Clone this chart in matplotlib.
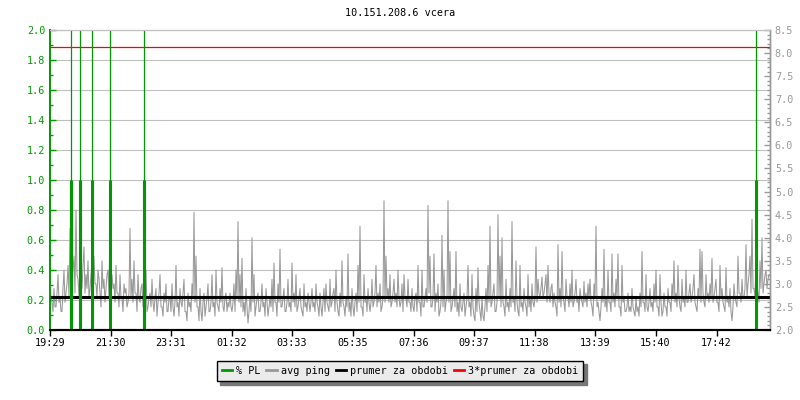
import matplotlib
matplotlib.use("Agg")
import matplotlib.pyplot as plt
import numpy as np
from matplotlib.lines import Line2D
from matplotlib.ticker import MultipleLocator, FormatStrFormatter

TITLE = "10.151.208.6 vcera"
START = "19:29"
STEP_MIN = 2  # one ping sample every 2 minutes
SPAN_MIN = 1440

tick_labels = ["19:29", "21:30", "23:31", "01:32", "03:33", "05:35",
               "07:36", "09:37", "11:38", "13:39", "15:40", "17:42"]

# avg ping [ms], right axis, one row = 40 minutes
avg_ping = [
  3.1, 2.7, 2.6, 2.4, 2.9, 2.5, 2.5, 2.8, 3.2, 2.6, 2.7, 2.4, 2.4, 2.9, 3.3, 2.6, 2.8, 3.0, 3.4, 2.7,
  4.2, 2.9, 3.0, 3.3, 3.6, 2.8, 4.6, 3.2, 3.1, 2.7, 3.5, 3.0, 2.9, 3.4, 3.8, 2.8, 3.2, 2.9, 3.5, 2.7,
  2.9, 3.2, 3.4, 2.6, 3.6, 3.0, 3.0, 2.7, 3.3, 3.1, 2.8, 2.5, 3.5, 2.9, 3.1, 2.6, 2.9, 3.2, 3.3, 2.7,
  4.5, 2.8, 3.2, 2.9, 3.0, 2.6, 3.4, 2.8, 2.8, 2.5, 3.2, 2.7, 2.7, 2.4, 3.0, 2.8, 2.9, 2.5, 2.6, 2.8,
  4.2, 2.7, 3.1, 2.6, 3.5, 2.8, 2.8, 2.4, 3.2, 2.7, 2.6, 2.9, 3.0, 2.5, 2.9, 2.6, 3.3, 2.4, 2.5, 2.7,
  2.8, 2.5, 3.1, 2.6, 2.4, 2.7, 2.9, 2.3, 2.6, 2.8, 3.2, 2.5, 2.5, 2.3, 2.8, 2.6, 3.0, 2.4, 2.4, 2.7,
  2.7, 2.4, 3.0, 2.5, 2.3, 2.6, 3.4, 2.5, 2.6, 2.3, 2.9, 2.6, 2.5, 2.8, 3.1, 2.4, 2.4, 2.2, 2.8, 2.5,
  2.6, 2.4, 3.0, 2.7, 4.55, 2.6, 3.6, 2.5, 2.5, 2.2, 2.9, 2.4, 2.2, 2.6, 2.8, 2.3, 2.5, 2.7, 3.0, 2.4,
  2.4, 2.6, 3.2, 2.5, 2.6, 2.3, 3.3, 2.6, 2.5, 2.4, 2.9, 2.6, 3.35, 2.5, 2.4, 2.7, 2.8, 2.4, 2.6, 2.5,
  # 01:29 ->
  2.8, 2.5, 2.4, 2.6, 3.0, 2.4, 3.3, 2.7, 4.35, 2.6, 3.2, 2.5, 3.55, 2.4, 2.6, 2.3, 2.9, 2.5, 2.15, 2.4,
  2.7, 2.4, 4.0, 2.6, 3.2, 2.3, 2.5, 2.7, 2.8, 2.4, 2.4, 2.6, 3.0, 2.5, 2.6, 2.3, 2.9, 2.6, 2.3, 2.5,
  2.7, 2.5, 3.1, 2.4, 3.45, 2.6, 2.6, 2.3, 3.0, 2.6, 3.75, 2.5, 2.5, 2.7, 2.9, 2.4, 2.4, 2.6, 3.1, 2.5,
  2.6, 2.4, 3.45, 2.6, 2.8, 2.5, 3.2, 2.4, 2.5, 2.7, 2.9, 2.5, 2.4, 2.3, 3.0, 2.5, 2.6, 2.4, 2.8, 2.6,
  2.4, 2.6, 2.9, 2.5, 2.6, 2.4, 3.0, 2.6, 2.5, 2.3, 2.8, 2.5, 2.3, 2.6, 2.9, 2.4, 3.0, 2.6, 2.5, 2.4,
  3.1, 2.5, 2.6, 2.8, 2.9, 2.4, 3.3, 2.6, 2.4, 2.3, 2.8, 2.5, 3.5, 2.6, 2.5, 2.3, 2.7, 2.5, 3.65, 2.4,
  2.6, 2.3, 2.9, 2.5, 2.3, 2.6, 2.8, 2.4, 3.4, 2.6, 4.25, 2.5, 2.5, 2.3, 3.2, 2.6, 2.7, 2.4, 2.9, 2.6,
  2.4, 2.6, 3.1, 2.5, 2.6, 2.8, 3.4, 2.5, 2.8, 2.6, 3.0, 2.4, 2.5, 2.7, 4.8, 2.6, 3.6, 2.7, 2.9, 2.6,
  3.2, 2.5, 2.6, 2.8, 3.1, 2.6, 2.8, 2.5, 3.3, 2.7, 2.5, 2.6, 3.0, 2.4, 3.2, 2.7, 2.7, 2.5, 3.1, 2.6,
  # 07:29 ->
  2.6, 2.4, 2.9, 2.5, 2.4, 2.7, 2.8, 2.4, 3.4, 2.6, 2.6, 2.3, 3.3, 2.5, 2.5, 2.7, 2.9, 2.6, 4.7, 2.8,
  3.6, 2.5, 2.5, 2.7, 3.65, 2.4, 2.8, 2.6, 3.0, 2.3, 2.4, 2.6, 4.05, 2.5, 3.3, 2.4, 2.6, 2.7, 4.8, 2.6,
  3.7, 2.4, 2.5, 2.7, 2.9, 2.5, 3.7, 2.4, 2.6, 2.3, 3.0, 2.5, 2.4, 2.6, 2.8, 2.3, 2.5, 2.7, 3.4, 2.5,
  2.6, 2.3, 3.2, 2.5, 2.3, 2.2, 2.9, 2.4, 3.35, 2.6, 2.4, 2.2, 2.7, 2.3, 2.2, 2.5, 2.9, 2.4, 3.4, 2.6,
  4.25, 2.5, 2.6, 2.8, 3.0, 2.4, 2.4, 2.6, 4.5, 2.7, 3.6, 2.5, 4.0, 2.6, 2.5, 2.3, 3.1, 2.5, 2.6, 2.4,
  2.9, 2.5, 4.35, 2.6, 2.7, 2.4, 3.5, 2.6, 2.4, 2.3, 3.4, 2.5, 2.6, 2.4, 2.9, 2.6, 2.5, 2.3, 3.2, 2.5,
  2.7, 2.4, 3.0, 2.6, 2.5, 2.7, 3.8, 2.6, 3.1, 2.8, 2.7, 2.9, 3.15, 2.7, 2.8, 3.0, 3.2, 2.6, 3.4, 2.8,
  2.6, 2.9, 3.0, 2.5, 2.8, 2.6, 2.5, 2.3, 3.85, 2.6, 2.9, 2.5, 3.7, 2.7, 2.6, 2.4, 3.1, 2.7, 2.7, 2.5,
  3.0, 2.6, 3.3, 2.5, 2.6, 2.8, 3.1, 2.6, 2.7, 2.4, 2.9, 2.7, 2.6, 2.5, 3.05, 2.6, 2.8, 2.5, 3.0, 2.7,
  # 13:29 ->
  3.1, 2.6, 2.5, 2.3, 3.0, 2.7, 4.25, 2.5, 2.6, 2.4, 2.2, 2.5, 2.9, 2.6, 3.75, 2.5, 2.7, 2.4, 3.3, 2.6,
  2.6, 2.4, 3.65, 2.6, 2.8, 2.5, 3.1, 2.7, 3.65, 2.5, 2.5, 2.3, 3.4, 2.6, 2.7, 2.4, 2.4, 2.5, 2.8, 2.4,
  2.5, 2.4, 2.9, 2.5, 2.4, 2.3, 2.7, 2.4, 2.5, 2.3, 2.8, 2.5, 3.7, 2.6, 2.6, 2.4, 3.2, 2.5, 2.4, 2.6,
  2.9, 2.5, 2.6, 2.4, 3.0, 2.6, 3.3, 2.5, 2.5, 2.3, 3.2, 2.6, 2.3, 2.4, 2.8, 2.5, 2.5, 2.3, 2.9, 2.6,
  2.6, 2.4, 3.0, 2.7, 3.5, 2.6, 2.8, 2.5, 3.4, 2.7, 2.5, 2.4, 3.1, 2.6, 2.7, 2.5, 3.3, 2.6, 2.6, 2.8,
  3.0, 2.6, 2.7, 2.9, 3.2, 2.6, 2.5, 2.4, 2.9, 2.7, 3.75, 2.6, 3.7, 2.8, 2.6, 2.5, 3.2, 2.7, 2.8, 2.6,
  3.0, 2.7, 3.55, 2.6, 2.7, 2.9, 3.1, 2.6, 2.6, 2.4, 3.4, 2.7, 2.9, 2.6, 2.5, 2.4, 3.35, 2.6, 2.7, 2.5,
  2.9, 2.4, 2.2, 2.5, 3.0, 2.7, 2.6, 2.5, 3.6, 2.8, 2.8, 2.6, 3.1, 2.7, 2.7, 2.9, 3.85, 2.7, 3.0, 3.2,
  3.6, 2.8, 4.4, 2.9, 2.9, 2.7, 3.5, 3.0, 2.8, 2.6, 3.5, 2.9, 4.0, 2.8, 3.0, 3.2, 3.3, 2.9, 3.1, 3.2,
]
avg_mean = 2.71

# packet loss [%], left axis: minutes after start
pl_minutes = [42, 60, 84, 120, 188, 1412]
pl_values = [1.0, 1.0, 1.0, 1.0, 1.0, 1.0]
pl_peaks = [2.0, 2.0, 2.0, 2.0, 2.0, 2.0]

GREEN = "#009900"
GRAY = "#999999"
GRID = "#c0c0c0"
FONT = "DejaVu Sans Mono"
FS = 7.3

plt.rcParams["font.family"] = FONT
plt.rcParams["font.size"] = FS


def to_minutes(label):
  h, m = map(int, label.split(":"))
  sh, sm = map(int, START.split(":"))
  return (h * 60 + m - (sh * 60 + sm)) % SPAN_MIN


fig = plt.figure(figsize=(8, 4), dpi=100)
ax = fig.add_axes([50 / 800, 70 / 400, 720 / 800, 300 / 400])
ax2 = ax.twinx()

ax.set_xlim(0, SPAN_MIN)
ax.set_ylim(0, 2.0)
ax2.set_ylim(2.0, 8.5)

# grid on left scale
ax.yaxis.set_major_locator(MultipleLocator(0.2))
ax.yaxis.set_minor_locator(MultipleLocator(0.1))
ax.grid(axis="y", color=GRID, linewidth=0.8)
ax.set_axisbelow(True)

x = np.arange(len(avg_ping)) * STEP_MIN
ax2.plot(x, avg_ping, color=GRAY, linewidth=0.75)
ax2.axhline(avg_mean, color="black", linewidth=2.2)
ax2.axhline(3 * avg_mean, color="red", linewidth=0.9)
# PL drawn on left scale, above the ping line
ax2.vlines(pl_minutes, 0, pl_peaks, color=GREEN, linewidth=0.9,
           transform=ax.transData)
ax2.vlines(pl_minutes, 0, pl_values, color=GREEN, linewidth=2.2,
           transform=ax.transData)

ax.set_xticks([to_minutes(t) for t in tick_labels])
ax.set_xticklabels(tick_labels)
ax.tick_params(axis="x", direction="out", length=4, width=1, colors="black",
               pad=2)
ax.tick_params(axis="y", which="both", direction="in", colors=GREEN,
               labelcolor=GREEN, width=1)
ax.tick_params(axis="y", which="major", length=4)
ax.tick_params(axis="y", which="minor", length=2.5)
ax.yaxis.set_major_formatter(FormatStrFormatter("%.1f"))

ax2.yaxis.set_major_locator(MultipleLocator(0.5))
ax2.yaxis.set_minor_locator(MultipleLocator(0.1))
ax2.yaxis.set_major_formatter(FormatStrFormatter("%.1f"))
ax2.tick_params(axis="y", which="both", direction="in", colors=GRAY,
                labelcolor=GRAY, width=1)
ax2.tick_params(axis="y", which="major", length=4)
ax2.tick_params(axis="y", which="minor", length=2.5)

for a in (ax, ax2):
  a.spines["left"].set_color(GREEN)
  a.spines["left"].set_linewidth(1.2)
  a.spines["right"].set_color(GRAY)
  a.spines["right"].set_linewidth(1.0)
  a.spines["top"].set_color(GRID)
  a.spines["top"].set_linewidth(0.8)
  a.spines["bottom"].set_color("black")
  a.spines["bottom"].set_linewidth(1.5)

fig.text(0.5, 1 - 13 / 400, TITLE, ha="center", va="center", fontsize=FS)

handles = [
  Line2D([], [], color=GREEN, linewidth=2),
  Line2D([], [], color=GRAY, linewidth=2),
  Line2D([], [], color="black", linewidth=2),
  Line2D([], [], color="red", linewidth=2),
]
labels = ["% PL", "avg ping", "prumer za obdobi", "3*prumer za obdobi"]
leg = fig.legend(handles, labels, loc="center",
                 bbox_to_anchor=(0.5, 1 - 371 / 400),
                 ncol=4, frameon=True, fancybox=False, framealpha=1,
                 facecolor="#ebebeb", edgecolor="black", fontsize=FS,
                 handlelength=1.0, handletextpad=0.4, columnspacing=0.6,
                 borderpad=0.5,
                 shadow={"color": "#777777", "alpha": 1, "ox": 2.5, "oy": -2.5})
leg.get_frame().set_linewidth(1.0)

fig.savefig("out.png", dpi=100)
